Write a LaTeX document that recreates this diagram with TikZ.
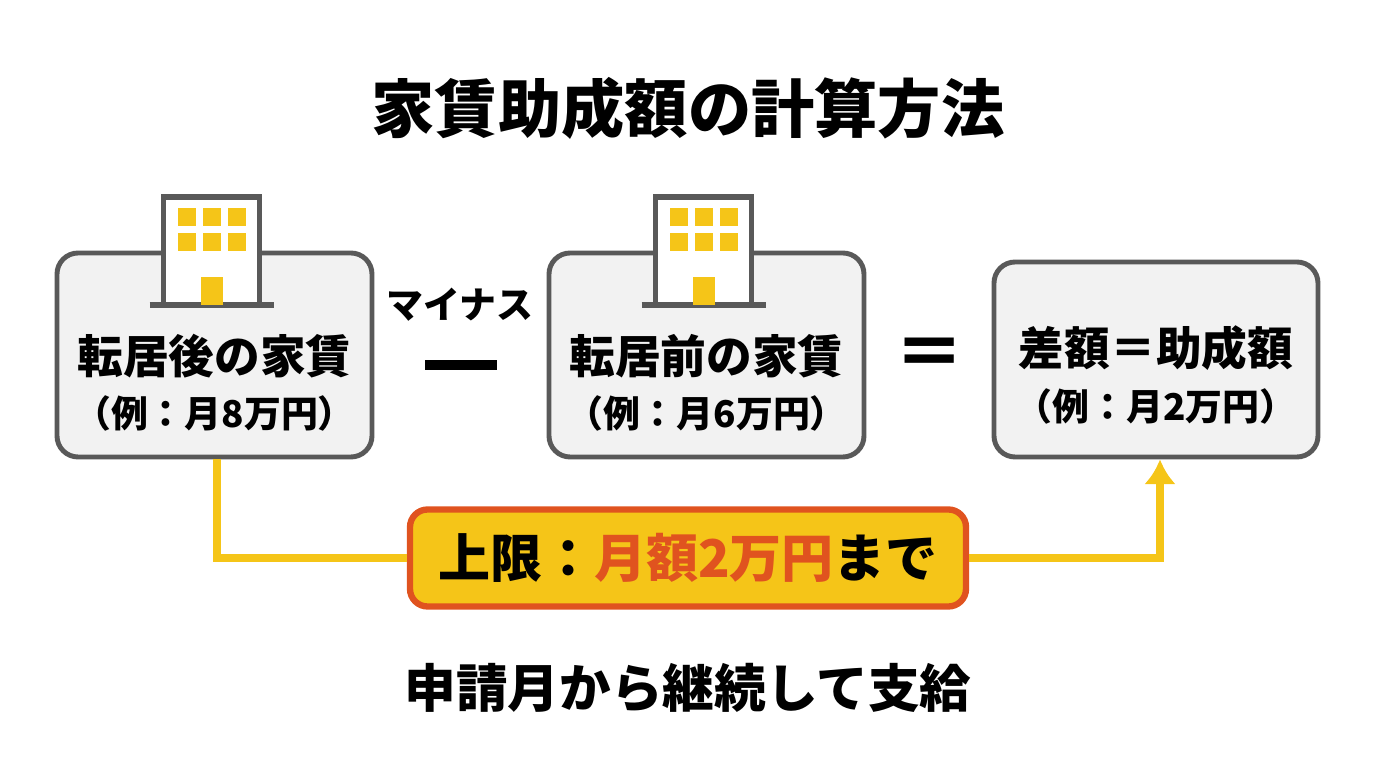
\documentclass[tikz,border=0pt]{standalone}
\usepackage{fontspec}
\setmainfont{Noto Sans CJK JP}
\usetikzlibrary{positioning,arrows.meta}
\definecolor{boxgray}{HTML}{F2F2F2}
\definecolor{linegray}{HTML}{595959}
\definecolor{gold}{HTML}{F5C518}
\definecolor{redorange}{HTML}{E0531F}

\newcommand{\bldg}[2]{%
  \fill[white] (#1-0.48,#2-0.54) rectangle (#1+0.48,#2+0.54);
  \draw[linegray, line width=1.6pt] (#1-0.48,#2-0.54) -- (#1-0.48,#2+0.54) -- (#1+0.48,#2+0.54) -- (#1+0.48,#2-0.54);
  \draw[linegray, line width=1.6pt] (#1-0.62,#2-0.54) -- (#1+0.62,#2-0.54);
  \foreach \i in {-1,0,1} \foreach \j in {0,1}
    \fill[gold] (#1+\i*0.25-0.09,#2+0.34-\j*0.25-0.09) rectangle ++(0.18,0.18);
  \fill[gold] (#1-0.11,#2-0.54) rectangle (#1+0.11,#2-0.26);
}

\begin{document}
\begin{tikzpicture}[x=1cm, y=1cm, >={Latex[length=7pt,width=9pt]},
    card/.style={draw=linegray, line width=1.4pt, fill=boxgray, rounded corners=6pt, align=center},
    head/.style={font=\bfseries\fontsize{13}{15}\selectfont},
    sub/.style={font=\bfseries\fontsize{10.5}{12}\selectfont}]
  \useasboundingbox (0,0) rectangle (13.76,7.68);

  \node[font=\bfseries\fontsize{18}{21}\selectfont] (title) at (6.88,6.60) {家賃助成額の計算方法};

  \node[card, minimum width=3.15cm, minimum height=2.04cm] (after) at (2.145,4.13) {};
  \node[card, minimum width=3.15cm, minimum height=2.04cm] (before) at (7.065,4.13) {};
  \node[card, minimum width=3.24cm, minimum height=1.95cm] (diff) at (11.56,4.085) {};

  \bldg{2.115}{5.17}
  \bldg{7.035}{5.17}

  \node[head] (t1) at (2.145,4.12) {転居後の家賃};
  \node[sub] (s1) at (2.145,3.55) {（例：月8万円）};
  \node[head] (t2) at (7.065,4.12) {転居前の家賃};
  \node[sub] (s2) at (7.065,3.55) {（例：月6万円）};
  \node[head] (t3) at (11.56,4.20) {差額＝助成額};
  \node[sub] (s3) at (11.56,3.62) {（例：月2万円）};

  \node[font=\bfseries\fontsize{10.5}{12}\selectfont] (minus) at (4.60,4.63) {マイナス};
  \fill (4.25,3.98) rectangle (4.97,4.08);
  \node[font=\bfseries\fontsize{20}{20}\selectfont] (eq) at (9.30,4.10) {＝};

  \node[draw=redorange, fill=gold, line width=1.8pt, rounded corners=5pt,
        minimum width=5.56cm, minimum height=0.97cm,
        font=\bfseries\fontsize{14.8}{17}\selectfont] (limit) at (6.88,2.10)
        {上限：\textcolor{redorange}{月額2万円}まで};

  \coordinate (c1) at (2.17,2.10);
  \coordinate (c2) at (11.60,2.10);
  \draw[gold, line width=2pt] (after.south -| c1) -- (c1) -- (limit.west);
  \draw[gold, line width=2pt, ->] (limit.east) -- (c2) -- (diff.south -| c2);

  \node[font=\bfseries\fontsize{14.7}{17}\selectfont] (pay) at (6.88,0.80) {申請月から継続して支給};
\end{tikzpicture}
\end{document}
